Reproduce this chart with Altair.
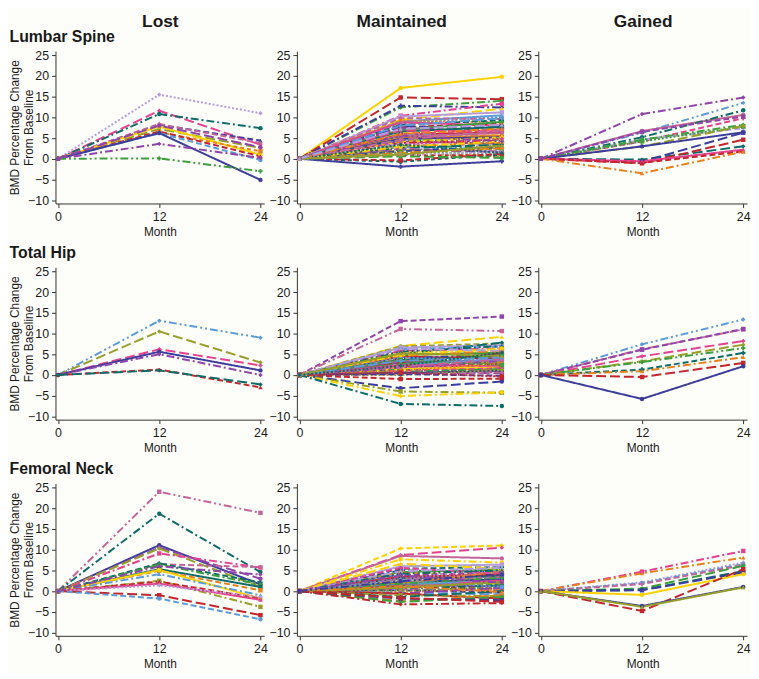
import altair as alt
import pandas as pd

# ---------------- data ----------------
ROWS = ["Lumbar Spine", "Total Hip", "Femoral Neck"]
COLS = ["Lost", "Maintained", "Gained"]
MONTHS = [0, 12, 24]
Y_TITLE = ["BMD Percentage Change", "From Baseline"]

# Lumbar spine
LS_LOST_ID = [33, 43, 80, 72, 23, 78, 70, 76, 37, 65, 0, 3, 74, 15]
LS_LOST_M12 = [15.5, 11.6, 10.8, 8.2, 8.4, 7.2, 7.8, 6.4, 6.6, 6.2, 6.2, 3.6, 0.1, 8.0]
LS_LOST_M24 = [11.0, 3.4, 7.4, 4.4, 3.8, 2.6, 1.0, 1.8, 0.6, -0.3, -5.1, 0.2, -3.0, 2.8]

LS_MAIN_ID = [70, 1, 38, 24, 31, 22, 21, 77, 5, 23, 40, 44, 7, 37, 36, 14, 51, 66, 58, 56,
              49, 79, 17, 35, 2, 28, 0, 80, 78, 63, 34, 73, 9, 19, 74, 16, 65, 8, 59, 15,
              30, 72, 26, 64, 54, 13, 20, 121, 84, 50, 33, 10, 43, 29, 39, 71, 68, 52, 42, 57]
LS_MAIN_M12 = [17.1, 14.8, 12.4, 12.8, 10.4, 9.4, 10.2, 9.0, 8.6, 9.8, 9.2, 8.2, 8.8, 7.6, 7.8, 7.0, 7.4, 6.8, 6.4, 6.6,
               5.8, 5.9, 6.0, 5.4, 5.2, 5.0, 4.8, 4.6, 4.4, 4.2, 4.0, 3.8, 3.6, 3.4, 3.2, 3.0, 2.8, 2.6, 2.4, 2.2,
               2.0, 1.8, 1.6, 1.4, 1.2, 0.9, -0.7, -0.4, -1.9, 0.6, 1.0, 2.9, 6.8, 8.0, 5.6, 4.6, 3.4, 6.0, 1.0, 7.2]
LS_MAIN_M24 = [19.8, 14.4, 14.0, 12.4, 13.3, 12.1, 11.2, 10.5, 10.1, 9.6, 8.8, 9.3, 8.0, 8.5, 7.6, 8.9, 6.8, 7.4, 6.0, 7.7,
               6.4, 7.0, 5.4, 6.2, 4.6, 5.6, 5.2, 4.0, 5.0, 3.6, 5.2, 4.4, 3.0, 4.8, 2.6, 3.8, 2.2, 3.4, 1.8, 1.6,
               2.4, 2.8, 1.2, 2.6, 0.6, 0.8, 1.0, 1.2, -0.6, 0.2, 1.6, 4.2, 6.6, 9.8, 4.2, 6.8, 1.4, 7.2, 3.2, 8.2]

LS_GAIN_ID = [3, 53, 35, 80, 79, 9, 38, 26, 78, 0, 8, 36, 1, 7, 37, 52, 51]
LS_GAIN_M12 = [10.8, 6.3, 6.7, 5.2, 4.2, 4.6, 4.6, 4.2, 3.0, 3.0, -0.2, -0.7, -1.1, -0.6, -1.0, -3.5, 6.5]
LS_GAIN_M24 = [14.8, 13.5, 10.6, 11.7, 9.8, 7.4, 8.2, 7.8, 7.9, 6.4, 3.0, 6.3, 4.6, 2.2, 1.8, 1.7, 10.2]

# Total hip
TH_LOST_ID = [53, 78, 43, 0, 3, 37, 8]
TH_LOST_M12 = [13.1, 10.5, 6.2, 5.6, 5.0, 1.3, 1.1]
TH_LOST_M24 = [9.0, 3.0, 2.3, 1.1, 0.0, -3.0, -2.3]

TH_MAIN_ID = [51, 11, 22, 30, 21, 8, 65, 31, 82, 14, 49, 24, 16, 56, 35, 43, 63, 2, 78, 77,
              36, 37, 28, 33, 70, 44, 79, 38, 15, 0, 23, 54, 64, 1, 32, 5, 50, 10, 57, 7,
              3, 72, 121, 120, 66, 94, 80, 40, 26, 71, 61, 29, 42, 68]
TH_MAIN_M12 = [13.0, 11.1, 7.0, 6.9, 6.6, 5.0, 6.2, 5.8, 5.4, 4.8, 4.4, 4.0, 3.8, 3.6, 3.4, 3.2, 3.0, 2.8, 2.6, 2.4,
               2.2, 2.0, 1.8, 1.6, 1.4, 1.2, 1.0, 0.8, 0.6, 0.4, 0.2, 0.0, 4.6, 3.0, 5.6, 4.2, 2.6, 4.8, 6.4, 2.4,
               1.8, 0.2, -1.0, -3.2, -4.0, -5.1, -7.0, 1.0, 3.6, 2.0, 0.6, 3.4, 5.2, 2.2]
TH_MAIN_M24 = [14.1, 10.6, 9.2, 7.6, 7.2, 7.8, 6.8, 6.4, 6.0, 5.4, 4.0, 5.0, 3.2, 4.6, 2.8, 4.4, 3.6, 2.0, 3.0, 3.8,
               1.8, 2.6, 1.2, 2.4, 2.0, 0.8, 1.6, 1.4, 0.4, 1.0, 0.6, 1.2, 5.8, 5.2, 7.0, 3.4, 4.8, 6.4, 5.8, 2.2,
               3.4, -0.2, -0.9, -1.6, -4.3, -4.2, -7.5, 2.8, 2.4, 3.8, -0.4, 4.2, 4.6, 5.4]

TH_GAIN_ID = [53, 71, 51, 43, 78, 74, 44, 52, 1, 0]
TH_GAIN_M12 = [7.4, 6.2, 6.1, 4.5, 3.3, 3.1, 1.3, 0.9, -0.5, -5.8]
TH_GAIN_M24 = [13.4, 11.0, 11.1, 8.2, 7.3, 6.5, 5.3, 4.3, 2.9, 2.1]

# Femoral neck
FN_LOST_ID = [11, 80, 0, 15, 78, 31, 23, 44, 38, 56, 16, 70, 17, 66, 37, 7, 33, 1, 65, 3]
FN_LOST_M12 = [24.0, 18.7, 11.1, 10.5, 10.3, 9.1, 6.5, 6.7, 6.4, 5.3, 4.9, 5.1, 4.1, 2.5, 2.3, 1.8, 1.4, -1.0, -1.8, 6.0]
FN_LOST_M24 = [18.9, 4.6, 1.6, 3.0, 1.0, 5.7, 5.8, 2.1, 1.6, 1.0, 0.2, -1.8, -1.0, -3.8, -1.8, -2.1, -1.4, -5.8, -6.8, 4.0]

FN_MAIN_ID = [58, 43, 35, 10, 21, 44, 24, 14, 16, 65, 51, 78, 49, 31, 56, 23, 33, 70, 0, 2,
              28, 77, 63, 30, 37, 7, 80, 71, 72, 26, 40, 29, 15, 133, 66, 8, 64, 50, 73, 36,
              79, 22, 57, 32, 47, 38, 5, 42, 3, 52, 1, 60]
FN_MAIN_M12 = [10.3, 8.7, 8.5, 7.7, 6.0, 5.4, 5.0, 4.6, 4.4, 4.0, 3.8, 3.6, 3.4, 3.2, 3.0, 2.8, 2.6, 2.4, 2.2, 2.0,
               1.8, 1.6, 1.4, 1.2, 1.0, 0.8, 0.6, 0.4, 0.2, 0.0, -0.2, -0.4, -0.6, -0.6, -1.0, -1.4, -2.4, -2.6, -3.2, -1.8,
               5.6, 6.6, 4.8, 4.2, 3.0, 1.8, 2.6, 0.8, 3.8, 1.2, -1.6, 2.4]
FN_MAIN_M24 = [11.0, 10.5, 7.9, 6.9, 6.4, 5.8, 4.6, 5.2, 3.8, 3.0, 4.4, 2.6, 4.0, 2.2, 3.6, 3.4, 6.2, 1.8, 2.8, 1.6,
               4.8, 2.4, 1.2, 2.0, 0.6, 2.6, 1.4, 0.2, -0.4, 1.0, 0.4, -0.8, 0.8, -1.8, -1.2, 0.0, -1.0, -1.4, -2.9, -2.2,
               4.2, 5.4, 5.6, 5.0, 4.6, 3.2, 1.0, 2.2, 2.0, -0.2, -2.6, 4.0]

FN_GAIN_ID = [31, 52, 33, 65, 23, 50, 8, 36, 70, 1, 0, 42]
FN_GAIN_M12 = [4.7, 4.3, 2.1, 1.9, 1.7, 0.6, 0.3, 0.2, -0.9, -4.8, -3.6, -3.8]
FN_GAIN_M24 = [9.7, 8.1, 6.9, 6.5, 6.3, 6.1, 4.8, 4.5, 4.1, 5.3, 1.0, 0.9]

PANELS = [
    [(LS_LOST_ID, LS_LOST_M12, LS_LOST_M24), (LS_MAIN_ID, LS_MAIN_M12, LS_MAIN_M24), (LS_GAIN_ID, LS_GAIN_M12, LS_GAIN_M24)],
    [(TH_LOST_ID, TH_LOST_M12, TH_LOST_M24), (TH_MAIN_ID, TH_MAIN_M12, TH_MAIN_M24), (TH_GAIN_ID, TH_GAIN_M12, TH_GAIN_M24)],
    [(FN_LOST_ID, FN_LOST_M12, FN_LOST_M24), (FN_MAIN_ID, FN_MAIN_M12, FN_MAIN_M24), (FN_GAIN_ID, FN_GAIN_M12, FN_GAIN_M24)],
]

# ---------------- styles ----------------
PALETTE = ["#3d3d9c", "#c4262e", "#3c9e3c", "#8e44a8", "#e8801c", "#5b9bd8",
           "#979f2a", "#e6418f", "#0e6c68", "#b49ddb", "#fcd200", "#c2669a"]
DASHES = [[1, 0], [10, 4], [6, 3], [8, 3, 2, 3], [8, 3, 2, 3, 2, 3], [2, 2], [4, 3]]
SHAPES = ["circle", "square", "triangle-up", "diamond", "cross"]
FONT = "Liberation Sans"
TXT = "#1a1a1a"
W, H = 211, 154
XSCALE = alt.Scale(domain=[-0.3, 24.45], nice=False, zero=False)
YSCALE = alt.Scale(domain=[-10.8, 26], nice=False, zero=False)
YTICKS = list(range(-10, 26, 5))


def make_df(ids, m12, m24):
    recs = []
    for sid, a, b in zip(ids, m12, m24):
        for m, v in zip(MONTHS, [0.0, a, b]):
            recs.append({"subject": sid, "month": m, "value": v,
                         "cidx": sid % 12, "didx": sid % 7, "sidx": sid % 5})
    return pd.DataFrame(recs)


def panel(ids, m12, m24, row_title, col_title, first_col):
    df = make_df(ids, m12, m24)
    x = alt.X("month:Q", scale=XSCALE, axis=alt.Axis(values=MONTHS, title="Month", format="d"))
    if first_col:
        yaxis = alt.Axis(values=YTICKS, title=Y_TITLE, titlePadding=-8)
    else:
        yaxis = alt.Axis(values=YTICKS, title=None)
    y = alt.Y("value:Q", scale=YSCALE, axis=yaxis)

    # column header (top axis title) and row header (second left axis title)
    if col_title:
        x2 = alt.X("month:Q", scale=XSCALE,
                   axis=alt.Axis(orient="top", values=MONTHS, labels=False, ticks=False, domain=False,
                                 title=col_title, titleFontSize=17.5, titleFontWeight="bold",
                                 titleX=W / 2, titleY=-25, titleAlign="center",
                                 titleBaseline="alphabetic"))
    else:
        x2 = x
    if row_title:
        y2 = alt.Y("value:Q", scale=YSCALE,
                   axis=alt.Axis(orient="left", values=YTICKS, labels=False, ticks=False, domain=False,
                                 title=row_title, titleFontSize=16, titleFontWeight="bold",
                                 titleAngle=0, titleX=-47, titleY=-10, titleAlign="left",
                                 titleBaseline="alphabetic"))
    else:
        y2 = y

    color = alt.Color("cidx:O", scale=alt.Scale(domain=list(range(12)), range=PALETTE), legend=None)
    dash = alt.StrokeDash("didx:O", scale=alt.Scale(domain=list(range(7)), range=DASHES), legend=None)
    shape = alt.Shape("sidx:O", scale=alt.Scale(domain=list(range(5)), range=SHAPES), legend=None)
    lines = alt.Chart(df).mark_line(strokeWidth=2).encode(
        x=x, y=y, color=color, strokeDash=dash, detail="subject:N")
    pts = alt.Chart(df).mark_point(filled=True, size=20, opacity=1).encode(
        x=x2, y=y2, color=color, shape=shape, detail="subject:N")
    ch = alt.layer(lines, pts).properties(width=W, height=H)
    if col_title or row_title:
        ch = ch.resolve_axis(x="independent" if col_title else "shared",
                             y="independent" if row_title else "shared")
    return ch


cells = []
for r, rname in enumerate(ROWS):
    for c in range(3):
        ids, a, b = PANELS[r][c]
        cells.append(panel(ids, a, b, rname if c == 0 else "", COLS[c] if r == 0 else "", c == 0))

chart = alt.concat(*cells, columns=3, spacing={"row": 64.5, "column": 33}, bounds="flush").properties(
    padding=0, background="#fdfdf9"
).configure_view(stroke="transparent").configure_axis(
    grid=False, domainColor="#333333", tickColor="#333333", tickSize=4,
    labelColor=TXT, titleColor=TXT, labelFont=FONT, titleFont=FONT,
    labelFontSize=12.5, titleFontSize=12, titleFontWeight="normal", labelPadding=3
)

chart.save("out.html", embed_options={"renderer": "svg", "actions": False})
